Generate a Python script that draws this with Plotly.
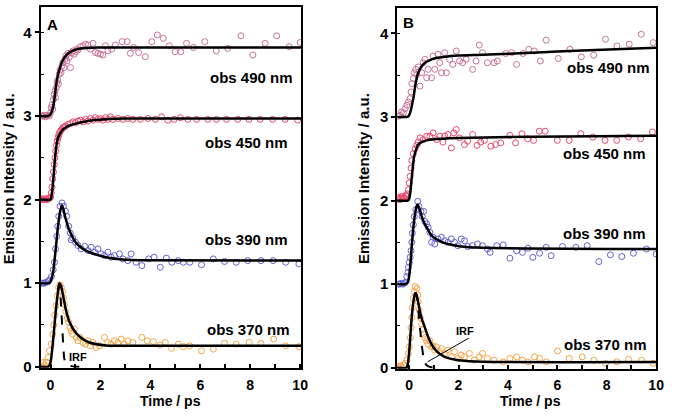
import plotly.graph_objects as go

W, H = 676, 416

# ---------------- data (time / ps, emission intensity / a.u.) ----------------
time_ticks = [0, 2, 4, 6, 8, 10]
y_ticks = [0, 1, 2, 3, 4]
labels = ["obs 490 nm", "obs 450 nm", "obs 390 nm", "obs 370 nm"]

# Panel A measured points
a490_pts = [(-0.35,3.0),(-0.3,3.0),(-0.25,3.01),(-0.2,2.99),(-0.15,3.0),(-0.1,3.01),(-0.05,3.0),
            (0.0,3.04),(0.03,3.1),(0.06,3.13),(0.09,3.08),(0.12,3.2),(0.15,3.26),(0.18,3.3),(0.2,3.22),
            (0.23,3.34),(0.26,3.4),(0.29,3.43),(0.32,3.38),(0.35,3.5),(0.38,3.55),(0.42,3.52),(0.46,3.6),
            (0.5,3.64),(0.54,3.58),(0.58,3.68),(0.62,3.72),(0.66,3.66),(0.7,3.75),(0.75,3.7),(0.8,3.58),
            (0.85,3.76),(0.9,3.78),(0.95,3.74),(1.0,3.77),(1.05,3.8),(1.1,3.79),(1.2,3.83),(1.3,3.84),
            (1.4,3.86),(1.5,3.85),(1.6,3.8),(1.7,3.87),(1.8,3.76),(1.9,3.75),(2.0,3.74),(2.1,3.73),
            (2.2,3.84),(2.3,3.78),(2.45,3.8),(2.6,3.85),(2.87,3.89),(3.07,3.89),(3.2,3.75),(3.33,3.82),
            (3.53,3.76),(3.8,3.71),(4.06,3.89),(4.28,3.97),(4.52,3.93),(4.76,3.84),(4.99,3.77),(5.22,3.77),
            (5.45,3.87),(5.72,3.82),(6.18,3.89),(6.64,3.78),(7.1,3.81),(7.63,3.96),(8.11,3.73),(8.6,3.87),
            (9.06,3.96),(9.56,3.83),(10.0,3.88)]
a450_pts = [(-0.38,2.0),(-0.33,2.01),(-0.28,2.0),(-0.23,2.0),(-0.18,2.01),(-0.13,2.0),(-0.08,2.01),
            (-0.03,2.02),(0.0,2.03),(0.03,2.08),(0.06,2.15),(0.09,2.25),(0.12,2.33),(0.15,2.42),(0.18,2.5),
            (0.21,2.58),(0.24,2.65),(0.27,2.7),(0.3,2.74),(0.33,2.77),(0.36,2.8),(0.4,2.82),(0.45,2.84),
            (0.5,2.86),(0.55,2.87),(0.6,2.88),(0.7,2.9),(0.8,2.91),(0.9,2.93),(1.0,2.92),(1.1,2.94),
            (1.2,2.95),(1.3,2.93),(1.4,2.96),(1.5,2.94),(1.6,2.97),(1.7,2.95),(1.8,2.98),(1.9,2.96),
            (2.0,2.97),(2.1,2.95),(2.2,2.98),(2.3,2.96),(2.4,2.99),(2.5,2.96),(2.7,2.97),(2.9,2.96),
            (3.1,2.97),(3.3,2.96),(3.6,2.96),(3.9,2.97),(4.2,2.96),(4.45,2.99),(4.7,2.95),(4.95,2.96),
            (5.2,2.98),(5.5,2.96),(5.85,2.96),(6.3,2.96),(6.65,2.96),(7.05,2.96),(7.5,2.96),(7.95,2.96),
            (8.4,2.96),(8.9,2.96),(9.4,2.96),(9.9,2.95)]
a390_pts = [(-0.36,1.0),(-0.3,1.0),(-0.24,1.0),(-0.18,1.01),(-0.1,1.02),(-0.04,1.04),(0.04,1.08),
            (0.11,1.16),(0.16,1.25),(0.2,1.41),(0.25,1.56),(0.29,1.68),(0.33,1.8),(0.38,1.92),(0.46,1.96),
            (0.52,1.92),(0.6,1.86),(0.65,1.8),(0.73,1.68),(0.79,1.6),(0.83,1.52),(0.89,1.54),(1.0,1.49),
            (1.1,1.45),(1.23,1.41),(1.37,1.44),(1.5,1.39),(1.63,1.43),(1.77,1.37),(1.9,1.41),(2.03,1.35),
            (2.16,1.33),(2.3,1.37),(2.43,1.31),(2.56,1.33),(2.76,1.35),(2.9,1.29),(3.1,1.27),(3.23,1.35),
            (3.43,1.25),(3.66,1.21),(3.93,1.29),(4.15,1.31),(4.4,1.19),(4.64,1.3),(4.86,1.25),(5.12,1.27),
            (5.32,1.25),(5.58,1.25),(6.05,1.22),(6.52,1.29),(6.97,1.26),(7.44,1.25),(7.9,1.27),(8.43,1.27),
            (8.92,1.27),(9.42,1.25),(9.95,1.23)]
a370_pts = [(-0.36,0.0),(-0.3,0.05),(-0.24,0.02),(-0.17,0.055),(-0.1,0.11),(-0.04,0.19),(0.03,0.27),
            (0.09,0.39),(0.13,0.5),(0.17,0.62),(0.22,0.73),(0.27,0.85),(0.33,0.95),(0.38,0.98),(0.43,0.95),
            (0.48,0.9),(0.52,0.82),(0.56,0.74),(0.61,0.66),(0.67,0.58),(0.73,0.53),(0.78,0.47),(0.83,0.43),
            (0.89,0.39),(0.96,0.45),(1.03,0.35),(1.1,0.31),(1.19,0.35),(1.3,0.29),(1.4,0.27),(1.5,0.31),
            (1.59,0.25),(1.7,0.29),(1.83,0.23),(1.96,0.25),(2.16,0.35),(2.29,0.29),(2.43,0.27),(2.56,0.31),
            (2.7,0.29),(2.83,0.33),(2.96,0.27),(3.1,0.31),(3.3,0.29),(3.66,0.35),(3.88,0.31),(4.12,0.3),
            (4.39,0.26),(4.6,0.29),(4.85,0.22),(5.12,0.27),(5.32,0.24),(5.58,0.25),(6.05,0.19),(6.52,0.21),
            (6.97,0.28),(7.44,0.27),(7.96,0.29),(8.43,0.28),(8.94,0.33),(9.42,0.25),(9.95,0.24)]

# Panel A fitted curves
a490_fit = [(-0.4,3.0),(-0.1,3.0),(0.0,3.02),(0.09,3.09),(0.16,3.21),(0.22,3.36),(0.29,3.48),(0.38,3.58),
            (0.48,3.66),(0.67,3.74),(0.87,3.78),(1.26,3.81),(1.9,3.82),(3.0,3.82),(10.05,3.82)]
a450_fit = [(-0.4,2.0),(0.0,2.0),(0.05,2.06),(0.1,2.2),(0.15,2.38),(0.2,2.55),(0.25,2.67),(0.3,2.74),
            (0.4,2.8),(0.5,2.84),(0.7,2.88),(0.9,2.9),(1.5,2.94),(2.2,2.96),(3.0,2.97),(10.05,2.97)]
a390_fit = [(-0.4,1.0),(-0.05,1.0),(0.0,1.02),(0.1,1.12),(0.2,1.38),(0.3,1.68),(0.4,1.88),(0.46,1.93),
            (0.52,1.88),(0.6,1.78),(0.76,1.63),(1.03,1.48),(1.3,1.41),(1.56,1.37),(2.22,1.31),(3.0,1.28),
            (3.6,1.275),(10.05,1.27)]
a370_fit = [(-0.4,0.0),(-0.08,0.0),(0.0,0.05),(0.1,0.3),(0.2,0.63),(0.3,0.9),(0.36,1.0),(0.42,0.97),
            (0.5,0.86),(0.61,0.69),(0.75,0.54),(1.03,0.4),(1.3,0.33),(1.56,0.29),(2.22,0.255),(3.0,0.25),
            (10.05,0.25)]
a_irf = [(0.3,0.92),(0.36,0.98),(0.42,0.75),(0.48,0.42),(0.55,0.1),(0.62,0.03),(0.8,0.01),(1.0,0.0),(1.4,0.0)]

# Panel B measured points
b490_pts = [(-0.43,3.01),(-0.37,3.02),(-0.31,3.06),(-0.23,3.05),(-0.16,3.1),(-0.09,3.14),(-0.03,3.18),
            (0.04,3.22),(0.08,3.3),(0.11,3.4),(0.17,3.46),(0.21,3.53),(0.27,3.57),(0.31,3.51),(0.37,3.6),
            (0.44,3.37),(0.51,3.53),(0.57,3.65),(0.64,3.69),(0.71,3.47),(0.77,3.57),(0.91,3.47),(0.97,3.73),
            (1.04,3.57),(1.17,3.75),(1.24,3.65),(1.31,3.53),(1.44,3.77),(1.51,3.53),(1.64,3.69),(1.77,3.63),
            (1.91,3.79),(2.04,3.67),(2.17,3.65),(2.31,3.69),(2.57,3.57),(2.71,3.67),(2.84,3.86),(2.97,3.77),
            (3.17,3.65),(3.44,3.65),(3.57,3.67),(3.91,3.76),(4.15,3.77),(4.35,3.63),(4.61,3.76),(4.84,3.81),
            (5.07,3.79),(5.31,3.67),(5.55,3.92),(6.04,3.7),(6.51,3.81),(6.97,3.72),(7.47,3.74),(7.95,3.93),
            (8.41,3.85),(8.91,3.87),(9.4,3.99),(9.88,3.89)]
b450_pts = [(-0.46,2.02),(-0.42,2.04),(-0.38,2.01),(-0.34,2.03),(-0.3,2.05),(-0.26,2.02),(-0.22,2.04),
            (-0.18,2.03),(-0.14,2.06),(-0.1,2.05),(-0.06,2.08),(-0.03,2.13),(0.0,2.21),(0.04,2.29),
            (0.08,2.39),(0.11,2.48),(0.17,2.56),(0.24,2.62),(0.31,2.66),(0.37,2.7),(0.44,2.75),(0.57,2.73),
            (0.71,2.77),(0.84,2.77),(0.97,2.81),(1.11,2.73),(1.24,2.77),(1.37,2.7),(1.44,2.77),(1.57,2.79),
            (1.71,2.63),(1.81,2.81),(1.91,2.85),(2.04,2.75),(2.24,2.67),(2.37,2.71),(2.57,2.79),(2.75,2.66),
            (2.9,2.7),(3.05,2.72),(3.31,2.65),(3.5,2.67),(3.71,2.69),(4.08,2.78),(4.31,2.69),(4.57,2.8),
            (4.8,2.74),(5.04,2.72),(5.27,2.83),(5.51,2.83),(6.0,2.72),(6.48,2.72),(6.95,2.8),(7.44,2.76),
            (7.93,2.72),(8.4,2.72),(8.88,2.76),(9.37,2.74),(9.85,2.82)]
b390_pts = [(-0.44,1.0),(-0.38,1.0),(-0.32,1.01),(-0.26,1.0),(-0.2,1.01),(-0.16,1.02),(-0.09,1.09),
            (-0.05,1.14),(-0.03,1.2),(0.01,1.26),(0.04,1.32),(0.08,1.4),(0.11,1.5),(0.13,1.61),(0.17,1.71),
            (0.21,1.81),(0.27,1.89),(0.35,1.99),(0.4,1.93),(0.48,1.87),(0.53,1.81),(0.59,1.87),(0.64,1.75),
            (0.71,1.72),(0.77,1.68),(0.84,1.62),(0.91,1.5),(0.97,1.56),(1.04,1.48),(1.17,1.54),(1.31,1.56),
            (1.44,1.52),(1.57,1.5),(1.71,1.54),(1.84,1.5),(1.97,1.46),(2.11,1.54),(2.24,1.52),(2.37,1.45),
            (2.57,1.46),(2.77,1.48),(2.97,1.46),(3.17,1.42),(3.28,1.38),(3.55,1.46),(3.81,1.47),(4.08,1.31),
            (4.35,1.4),(4.59,1.38),(4.81,1.43),(5.01,1.32),(5.28,1.37),(5.55,1.44),(5.75,1.34),(6.21,1.45),
            (6.75,1.44),(7.21,1.46),(7.68,1.27),(8.15,1.35),(8.61,1.33),(9.08,1.37),(9.61,1.42),(10.0,1.36)]
b370_pts = [(-0.45,0.01),(-0.4,0.0),(-0.35,0.02),(-0.3,0.01),(-0.22,0.03),(-0.16,0.05),(-0.09,0.09),
            (-0.03,0.17),(0.01,0.25),(0.05,0.36),(0.08,0.48),(0.11,0.6),(0.13,0.72),(0.17,0.83),(0.21,0.91),
            (0.24,0.97),(0.31,0.95),(0.35,0.87),(0.37,0.79),(0.41,0.69),(0.45,0.6),(0.51,0.52),(0.55,0.46),
            (0.59,0.4),(0.64,0.36),(0.71,0.32),(0.77,0.28),(0.84,0.32),(0.91,0.25),(0.97,0.26),(1.04,0.21),
            (1.11,0.25),(1.24,0.19),(1.31,0.23),(1.44,0.17),(1.57,0.21),(1.71,0.13),(1.84,0.19),(1.97,0.11),
            (2.11,0.15),(2.24,0.13),(2.44,0.17),(2.64,0.09),(2.84,0.13),(2.97,0.17),(3.17,0.11),(3.44,0.09),
            (3.81,0.07),(4.08,0.11),(4.35,0.13),(4.59,0.09),(4.81,0.07),(5.08,0.13),(5.28,0.11),(5.55,0.07),
            (6.01,0.2),(6.48,0.11),(7.01,0.13),(7.48,0.09),(7.95,0.05),(8.41,0.07),(8.88,0.1),(9.41,0.09),
            (9.88,0.05)]

# Panel B fitted curves
b490_fit = [(-0.48,3.0),(-0.1,3.0),(-0.02,3.01),(0.04,3.05),(0.17,3.22),(0.27,3.41),(0.37,3.53),
            (0.57,3.63),(0.91,3.69),(1.44,3.72),(2.0,3.735),(3.0,3.745),(5.0,3.77),(7.0,3.795),(10.0,3.83)]
b450_fit = [(-0.48,2.0),(-0.05,2.0),(0.0,2.02),(0.05,2.1),(0.1,2.25),(0.15,2.4),(0.2,2.52),(0.27,2.6),
            (0.35,2.66),(0.45,2.69),(0.7,2.72),(1.0,2.735),(2.0,2.75),(5.0,2.765),(10.0,2.775)]
b390_fit = [(-0.48,1.0),(-0.15,1.0),(-0.05,1.02),(0.04,1.2),(0.11,1.47),(0.18,1.7),(0.24,1.84),
            (0.3,1.93),(0.35,1.95),(0.42,1.9),(0.51,1.81),(0.6,1.74),(0.71,1.68),(0.91,1.58),(1.2,1.52),
            (1.44,1.49),(2.1,1.45),(3.0,1.435),(10.0,1.42)]
b370_fit = [(-0.48,0.0),(-0.1,0.0),(-0.03,0.09),(0.04,0.33),(0.11,0.62),(0.18,0.8),(0.24,0.89),
            (0.3,0.87),(0.37,0.78),(0.44,0.67),(0.54,0.56),(0.64,0.48),(0.77,0.37),(0.91,0.28),(1.1,0.2),
            (1.44,0.13),(2.1,0.085),(3.0,0.07),(10.0,0.067)]
b_irf = [(0.26,0.9),(0.31,0.87),(0.4,0.6),(0.5,0.3),(0.58,0.13),(0.64,0.06),(0.75,0.02),(0.9,0.005),(1.3,0.0)]

colors = {"490": "#c8709a", "450": "#e8486e", "390": "#6262d6", "370": "#f5a445"}

# ---------------- figure ----------------
fig = go.Figure()

def unzip(pts):
    return [p[0] for p in pts], [p[1] for p in pts]

panels = [
    ("x", "y", [(a490_pts, a490_fit, "490"), (a450_pts, a450_fit, "450"),
                (a390_pts, a390_fit, "390"), (a370_pts, a370_fit, "370")], a_irf),
    ("x2", "y2", [(b490_pts, b490_fit, "490"), (b450_pts, b450_fit, "450"),
                  (b390_pts, b390_fit, "390"), (b370_pts, b370_fit, "370")], b_irf),
]

for xa, ya, series, irf in panels:
    for pts, fit, key in series:
        t, v = unzip(pts)
        fig.add_trace(go.Scatter(x=t, y=v, mode="markers", xaxis=xa, yaxis=ya,
                                 marker=dict(symbol="circle-open", size=6, color=colors[key],
                                             line=dict(width=1, color=colors[key])),
                                 showlegend=False, cliponaxis=True))
    for pts, fit, key in series:
        t, v = unzip(fit)
        fig.add_trace(go.Scatter(x=t, y=v, mode="lines", xaxis=xa, yaxis=ya,
                                 line=dict(color="black", width=2.5, shape="spline", smoothing=0.6),
                                 showlegend=False))
    t, v = unzip(irf)
    fig.add_trace(go.Scatter(x=t, y=v, mode="lines", xaxis=xa, yaxis=ya,
                             line=dict(color="black", width=2, dash="dash", shape="spline", smoothing=0.5),
                             showlegend=False))

FONT = "Liberation Sans, Arial, sans-serif"
tickfont = dict(family=FONT, size=14, color="black", weight="bold")

def xaxis(domain, rng):
    return dict(domain=domain, range=rng, showline=True, mirror=True, linecolor="black", linewidth=2,
                ticks="inside", ticklen=4, tickwidth=1.5, tickcolor="black", tickvals=time_ticks,
                minor=dict(dtick=1, tick0=0, ticks="inside", ticklen=4, tickwidth=1.5, tickcolor="black"),
                showgrid=False, zeroline=False, tickfont=tickfont, ticklabelstandoff=3)

def yaxis(domain, rng, anchor):
    return dict(domain=domain, range=rng, anchor=anchor, showline=True, mirror=True, linecolor="black",
                linewidth=2, ticks="outside", ticklen=4, tickwidth=1.5, tickcolor="black", tickvals=y_ticks,
                minor=dict(dtick=0.5, tick0=0, ticks="inside", ticklen=3, tickwidth=1, tickcolor="black"),
                showgrid=False, zeroline=False, tickfont=dict(tickfont, size=15))

fig.update_layout(
    width=W, height=H, margin=dict(l=0, r=0, t=0, b=0),
    paper_bgcolor="white", plot_bgcolor="white", showlegend=False,
    xaxis=dict(xaxis([41 / W, 305 / W], [-0.4, 10.05]), anchor="y"),
    yaxis=yaxis([1 - 374 / H, 1 - 7 / H], [-0.012, 4.306], "x"),
    xaxis2=dict(xaxis([402 / W, 664 / W], [-0.48, 10.0]), anchor="y2"),
    yaxis2=yaxis([1 - 375 / H, 1 - 8 / H], [-0.012, 4.306], "x2"),
)

lab_font = dict(family=FONT, size=15, color="black", weight="bold")
ann = []
label_pos_a = [(9.8, 3.46), (9.6, 2.68), (9.59, 1.52), (9.68, 0.45)]
label_pos_b = [(9.84, 3.59), (9.68, 2.56), (9.68, 1.6), (9.7, 0.28)]
for (x, y), txt in zip(label_pos_a, labels):
    ann.append(dict(xref="x", yref="y", x=x, y=y, text=txt, showarrow=False, xanchor="right",
                    yanchor="middle", font=lab_font))
for (x, y), txt in zip(label_pos_b, labels):
    ann.append(dict(xref="x2", yref="y2", x=x, y=y, text=txt, showarrow=False, xanchor="right",
                    yanchor="middle", font=lab_font))
# panel letters
ann.append(dict(xref="x", yref="y", x=0.08, y=4.1, text="A", showarrow=False, font=dict(family=FONT, size=15, color="black", weight="bold")))
ann.append(dict(xref="x2", yref="y2", x=-0.02, y=4.13, text="B", showarrow=False, font=dict(family=FONT, size=15, color="black", weight="bold")))
# IRF labels
irf_font = dict(family=FONT, size=11, color="black", weight="bold")
ann.append(dict(xref="x", yref="y", x=1.11, y=0.12, text="IRF", showarrow=False, font=irf_font))
ann.append(dict(xref="x2", yref="y2", x=2.28, y=0.44, text="IRF", showarrow=False, font=irf_font))
ann.append(dict(xref="x2", yref="y2", x=0.75, y=0.07, ax=2.48, ay=0.365, axref="x2", ayref="y2",
                text="", showarrow=True, arrowhead=0, arrowwidth=1, arrowcolor="black"))
# axis titles
title_font = dict(family=FONT, size=15, color="black", weight="bold")
for xc in [172.5, 536.5]:
    ann.append(dict(xref="paper", yref="paper", x=xc / W, y=1 - 408 / H, text="Time / ps",
                    showarrow=False, xanchor="center", yanchor="middle", font=dict(title_font, size=14)))
for xc in [9.5, 368.5]:
    ann.append(dict(xref="paper", yref="paper", x=xc / W, y=1 - 182 / H, text="Emission Intensity / a.u.",
                    showarrow=False, textangle=-90, xanchor="center", yanchor="middle", font=title_font))
fig.update_layout(annotations=ann)

fig.write_html("out.html")
